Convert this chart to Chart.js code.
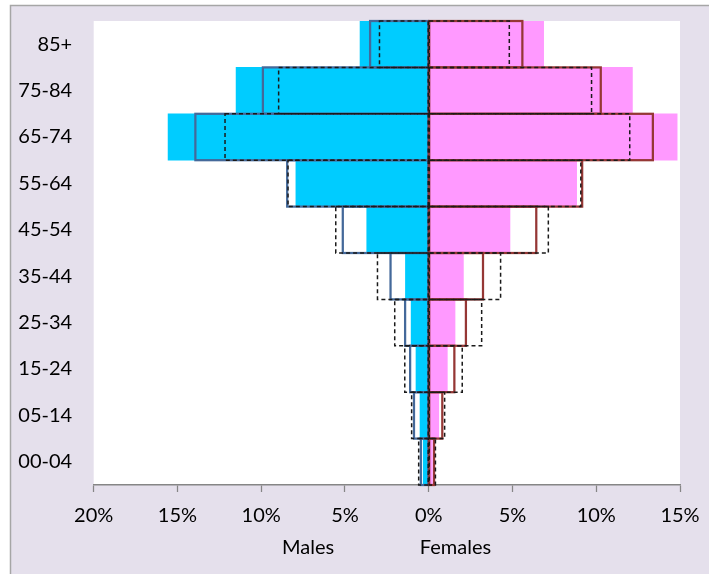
<!DOCTYPE html>
<html>
<head>
<meta charset="utf-8">
<script src="https://cdn.jsdelivr.net/npm/chart.js@4"></script>
<style>
  html, body { margin: 0; padding: 0; background: #ffffff; }
  #wrap { width: 709px; height: 574px; }
</style>
</head>
<body>
<div id="wrap"><canvas id="c" width="709" height="574"></canvas></div>
<script>
// ---- data (percent of population), ordered from youngest to oldest ----
const ageGroups = ['00-04', '05-14', '15-24', '25-34', '35-44', '45-54', '55-64', '65-74', '75-84', '85+'];

const malesFill     = [0.33, 0.52, 0.76, 1.05, 1.39, 3.70, 7.93, 15.56, 11.50, 4.10];
const malesSolid    = [0.47, 0.88, 1.11, 1.41, 2.28, 5.13, 8.45, 13.93, 9.90, 3.50];
const malesDashed   = [0.60, 1.02, 1.43, 2.03, 3.06, 5.55, 8.40, 12.16, 8.96, 2.94];

const femalesFill   = [0.22, 0.60, 1.11, 1.57, 2.07, 4.85, 8.83, 14.83, 12.16, 6.86];
const femalesSolid  = [0.32, 0.81, 1.53, 2.22, 3.24, 6.42, 9.16, 13.38, 10.27, 5.59];
const femalesDashed = [0.40, 0.95, 2.00, 3.16, 4.29, 7.14, 9.08, 12.00, 9.72, 4.81];

const xTickValues = [-20, -15, -10, -5, 0, 5, 10, 15];
const sideLabels = [{ text: 'Males', value: -7.2 }, { text: 'Females', value: 1.6 }];

const neg = arr => arr.map(v => -v);

const FONT = 'Lato';

const backgroundPlugin = {
  id: 'bg',
  beforeDraw(chart) {
    const ctx = chart.ctx;
    const W = chart.width, H = chart.height;
    ctx.save();
    ctx.fillStyle = '#ffffff';
    ctx.fillRect(0, 0, W, H);
    ctx.fillStyle = '#E5E0EC';
    ctx.fillRect(10.5, 5.5, W - 10.5, H - 5.5);
    ctx.strokeStyle = '#A6A6A6';
    ctx.lineWidth = 1.5;
    ctx.beginPath();
    ctx.moveTo(10.5, H);
    ctx.lineTo(10.5, 5.5);
    ctx.lineTo(W, 5.5);
    ctx.stroke();
    const a = chart.chartArea;
    ctx.fillStyle = '#ffffff';
    ctx.fillRect(a.left, a.top, a.right - a.left, a.bottom - a.top);
    ctx.restore();
  }
};

const outlinePlugin = {
  id: 'outlines',
  afterDatasetsDraw(chart) {
    const ctx = chart.ctx;
    const a = chart.chartArea;
    const xs = chart.scales.x;
    const x0 = xs.getPixelForValue(0);
    ctx.save();
    // vertical axis at zero
    ctx.strokeStyle = '#868686';
    ctx.lineWidth = 1.5;
    ctx.setLineDash([]);
    ctx.beginPath();
    ctx.moveTo(x0, a.top);
    ctx.lineTo(x0, a.bottom);
    ctx.stroke();
    // outlined series
    chart.data.datasets.forEach((ds, i) => {
      if (!ds.outline) return;
      const meta = chart.getDatasetMeta(i);
      ctx.strokeStyle = ds.outline.color;
      ctx.lineWidth = ds.outline.width;
      ctx.setLineDash(ds.outline.dash);
      meta.data.forEach(el => {
        const p = el.getProps(['x', 'y', 'base', 'height'], true);
        const left = Math.min(p.x, p.base);
        const w = Math.abs(p.x - p.base);
        ctx.strokeRect(left, p.y - p.height / 2, w, p.height);
      });
    });
    ctx.restore();
  },
  afterDraw(chart) {
    const ctx = chart.ctx;
    const xs = chart.scales.x;
    ctx.save();
    ctx.fillStyle = '#000000';
    ctx.font = '20px ' + FONT;
    ctx.textAlign = 'center';
    ctx.textBaseline = 'middle';
    sideLabels.forEach(s => {
      ctx.fillText(s.text, xs.getPixelForValue(s.value), 548);
    });
    ctx.restore();
  }
};

const common = { barPercentage: 1, categoryPercentage: 1, grouped: false, borderWidth: 0 };

new Chart(document.getElementById('c'), {
  type: 'bar',
  data: {
    labels: ageGroups,
    datasets: [
      Object.assign({ label: 'Males', data: neg(malesFill), backgroundColor: '#00CCFF', order: 3 }, common),
      Object.assign({ label: 'Females', data: femalesFill, backgroundColor: '#FF99FF', order: 3 }, common),
      Object.assign({ label: 'Males (solid)', data: neg(malesSolid), backgroundColor: 'rgba(0,0,0,0)', order: 2,
        outline: { color: '#44699A', width: 2.25, dash: [] } }, common),
      Object.assign({ label: 'Females (solid)', data: femalesSolid, backgroundColor: 'rgba(0,0,0,0)', order: 2,
        outline: { color: '#953735', width: 2.25, dash: [] } }, common),
      Object.assign({ label: 'Males (dashed)', data: neg(malesDashed), backgroundColor: 'rgba(0,0,0,0)', order: 1,
        outline: { color: '#1A1A1A', width: 1.5, dash: [4, 3] } }, common),
      Object.assign({ label: 'Females (dashed)', data: femalesDashed, backgroundColor: 'rgba(0,0,0,0)', order: 1,
        outline: { color: '#1A1A1A', width: 1.5, dash: [4, 3] } }, common)
    ]
  },
  options: {
    indexAxis: 'y',
    responsive: false,
    animation: false,
    events: [],
    layout: { padding: { top: 21, right: 29, left: 0, bottom: 0 } },
    plugins: { legend: { display: false }, tooltip: { enabled: false }, title: { display: false } },
    scales: {
      x: {
        type: 'linear',
        min: -20,
        max: 15,
        afterBuildTicks(scale) { scale.ticks = xTickValues.map(v => ({ value: v })); },
        afterFit(scale) {
          scale.height = 89;
          scale.paddingLeft = 0; scale.paddingRight = 0;
          scale.paddingTop = 0; scale.paddingBottom = 0;
        },
        ticks: {
          callback: v => Math.abs(v) + '%',
          font: { family: FONT, size: 20 },
          color: '#000000',
          padding: 12,
          maxRotation: 0,
          autoSkip: false
        },
        grid: {
          drawOnChartArea: false,
          drawTicks: true,
          tickLength: 7,
          tickColor: '#868686',
          tickWidth: 1.25,
          color: '#868686'
        },
        border: { display: true, color: '#868686', width: 1.5 }
      },
      y: {
        type: 'category',
        reverse: true,
        afterFit(scale) {
          scale.width = 93.7;
          scale.paddingLeft = 0; scale.paddingRight = 0;
          scale.paddingTop = 0; scale.paddingBottom = 0;
        },
        ticks: {
          font: { family: FONT, size: 20 },
          color: '#000000',
          padding: 21.5,
          autoSkip: false
        },
        grid: { display: false, drawTicks: false },
        border: { display: false }
      }
    }
  },
  plugins: [backgroundPlugin, outlinePlugin]
});
</script>
</body>
</html>
